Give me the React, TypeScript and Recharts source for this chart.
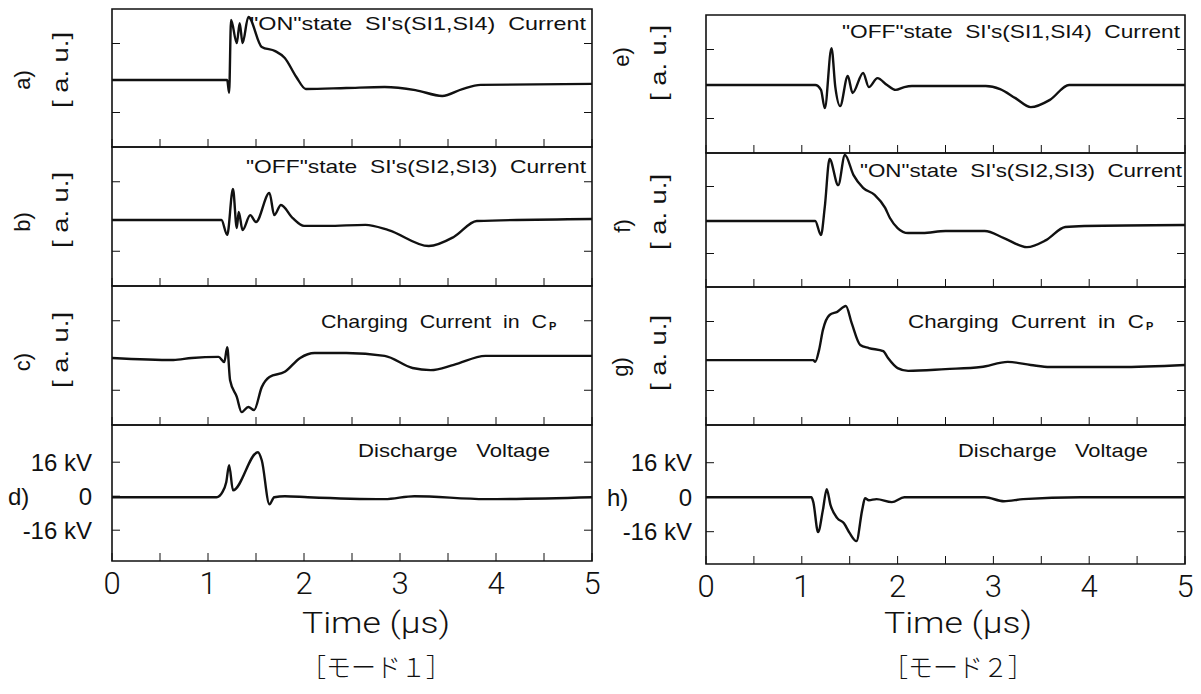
import React from "react";
import { LineChart, Line, XAxis, YAxis, ReferenceArea } from "recharts";

const INK = "#111111";
const SANS = "'Liberation Sans', Arial, sans-serif";
const THIN = "Roboto, 'Liberation Sans', sans-serif";
const CJK = "'Noto Sans CJK JP', sans-serif";

const TIME_TICKS = [0, 0.5, 1, 1.5, 2, 2.5, 3, 3.5, 4, 4.5, 5];
const AU_TICKS = [-1, 1];
const KV_TICKS = [-16, 0, 16];
const KV_SIDE_TICKS = [-16, 16];

// [モード1] a) "ON" state SI1,SI4 current (a.u.)
const timeA = [0, 1.2, 1.22, 1.24, 1.3, 1.33, 1.36, 1.42, 1.56, 1.7, 1.8, 1.92, 2.02, 2.44, 2.84, 3.16, 3.44, 3.65, 3.84, 5];
const valueA = [-0.06, -0.06, -0.43, 1.68, 1.01, 1.59, 1.01, 1.77, 0.9, 0.78, 0.58, 0.03, -0.32, -0.29, -0.26, -0.35, -0.52, -0.32, -0.2, -0.17];

// b) "OFF" state SI2,SI3 current
const timeB = [0, 1.14, 1.2, 1.26, 1.3, 1.32, 1.36, 1.44, 1.5, 1.64, 1.69, 1.76, 1.88, 2.0, 2.24, 2.64, 2.88, 3.3, 3.56, 3.8, 5];
const valueB = [-0.1, -0.1, -0.53, 0.79, -0.33, 0.13, -0.39, 0.04, -0.16, 0.68, 0.04, 0.33, -0.04, -0.27, -0.27, -0.24, -0.39, -0.85, -0.59, -0.13, -0.07];

// c) charging current in Cp
const timeC = [0, 0.64, 0.83, 1.11, 1.17, 1.2, 1.23, 1.3, 1.35, 1.42, 1.48, 1.56, 1.64, 1.8, 1.96, 2.11, 2.44, 2.84, 3.13, 3.32, 3.56, 3.89, 5];
const valueC = [-0.07, -0.13, -0.07, -0.04, -0.19, 0.24, -0.71, -1.19, -1.63, -1.48, -1.57, -0.91, -0.62, -0.47, -0.07, 0.07, 0.07, -0.01, -0.36, -0.42, -0.27, -0.01, -0.01];

// d) discharge voltage (kV)
const timeD = [0, 1.09, 1.15, 1.19, 1.22, 1.26, 1.52, 1.56, 1.64, 1.69, 1.8, 2.04, 2.84, 3.15, 3.89, 5];
const valueD = [-0.5, -0.5, 1.9, 6.6, 14.6, 2.8, 20.7, 16.9, -3.8, -0.5, 0, -0.5, -1.4, 0, -1.4, -0.5];

// [モード2] e) "OFF" state SI1,SI4 current
const timeE = [0, 1.14, 1.2, 1.24, 1.31, 1.35, 1.4, 1.48, 1.53, 1.64, 1.7, 1.79, 1.89, 1.98, 2.07, 2.15, 2.92, 3.07, 3.23, 3.39, 3.59, 3.79, 5];
const valueE = [-0.03, -0.03, -0.17, -0.7, 1.04, -0.09, -0.64, 0.23, -0.26, 0.32, -0.09, 0.17, -0.03, -0.17, -0.09, -0.06, -0.06, -0.15, -0.41, -0.67, -0.46, -0.03, -0.03];

// f) "ON" state SI2,SI3 current
const timeF = [0, 1.14, 1.2, 1.24, 1.29, 1.38, 1.45, 1.54, 1.64, 1.76, 1.87, 1.92, 2.0, 2.11, 2.26, 2.5, 2.91, 3.11, 3.35, 3.55, 3.75, 3.95, 5];
const valueF = [-0.03, -0.03, -0.45, 0.39, 1.82, 1.04, 1.94, 1.34, 0.96, 0.75, 0.36, 0.06, -0.24, -0.39, -0.39, -0.33, -0.33, -0.54, -0.81, -0.6, -0.21, -0.18, -0.15];

// g) charging current in Cp
const timeG = [0, 1.12, 1.14, 1.18, 1.22, 1.29, 1.37, 1.46, 1.52, 1.61, 1.7, 1.85, 1.9, 2.0, 2.11, 2.5, 2.87, 3.15, 3.39, 3.59, 4.31, 5];
const valueG = [-0.12, -0.12, -0.17, 0.17, 0.75, 1.19, 1.28, 1.45, 0.96, 0.32, 0.23, 0.14, -0.06, -0.35, -0.43, -0.38, -0.32, -0.17, -0.26, -0.32, -0.32, -0.26];

// h) discharge voltage (kV)
const timeH = [0, 1.1, 1.12, 1.17, 1.22, 1.26, 1.3, 1.37, 1.44, 1.5, 1.57, 1.63, 1.66, 1.7, 1.78, 1.94, 2.07, 2.91, 3.11, 3.31, 3.91, 5];
const valueH = [0, 0, -2.3, -16.2, -6.0, 3.7, -3.7, -9.7, -12.1, -16.7, -20.4, -6.0, -0.5, -1.4, -0.9, -2.3, 0, 0, -1.9, -0.9, 0, 0];

const AU_DOMAIN: [number, number] = [-2, 2];
const KV_DOMAIN_LEFT: [number, number] = [-30.5, 33.5];
const KV_DOMAIN_RIGHT: [number, number] = [-31, 33.5];

type PanelProps = {
  chartLeft: number;
  chartWidth: number;
  top: number;
  bottom: number;
  time: number[];
  value: number[];
  domain: [number, number];
  kv?: boolean;
  kvMargin?: number;
};

const blank = () => "";
const kvLabel = (v: number) => (v === 0 ? "0" : `${v} kV`);
const timeLabel = (v: number) => (Number.isInteger(v) ? String(v) : "");

function Panel({ chartLeft, chartWidth, top, bottom, time, value, domain, kv = false, kvMargin = 24 }: PanelProps) {
  const data = time.map((t, i) => ({ t, v: value[i] }));
  const pad = 6;
  const axisH = kv ? 80 : pad;
  const height = bottom - top + pad + axisH;
  return (
    <div style={{ position: "absolute", left: chartLeft, top: top - pad }}>
      <LineChart
        width={chartWidth}
        height={height}
        data={data}
        margin={{ top: pad, right: 0, bottom: 0, left: 12 }}
      >
        <XAxis
          dataKey="t"
          type="number"
          domain={[0, 5]}
          ticks={TIME_TICKS}
          interval={0}
          height={axisH}
          axisLine={false}
          stroke={INK}
          tickSize={-8}
          tickMargin={kv ? 19 : 0}
          tickFormatter={kv ? timeLabel : blank}
          tick={{ fill: INK, fontSize: 31, fontFamily: THIN, fontWeight: 300 }}
        />
        <YAxis
          type="number"
          domain={domain}
          ticks={kv ? KV_TICKS : AU_TICKS}
          interval={0}
          width={100}
          axisLine={false}
          stroke={INK}
          tickSize={-8}
          tickMargin={kv ? kvMargin : 0}
          tickFormatter={kv ? kvLabel : blank}
          tick={{ fill: INK, fontSize: 24, fontFamily: SANS }}
          allowDataOverflow
        />
        <YAxis
          yAxisId="r"
          orientation="right"
          type="number"
          domain={domain}
          ticks={kv ? KV_SIDE_TICKS : AU_TICKS}
          interval={0}
          width={10}
          axisLine={false}
          stroke={INK}
          tickSize={-8}
          tickFormatter={blank}
          allowDataOverflow
        />
        <ReferenceArea
          x1={0}
          x2={5}
          y1={domain[0]}
          y2={domain[1]}
          fill="none"
          stroke={INK}
          strokeWidth={1.6}
          ifOverflow="visible"
        />
        <Line
          type="monotone"
          dataKey="v"
          stroke={INK}
          strokeWidth={2.4}
          dot={false}
          isAnimationActive={false}
        />
      </LineChart>
    </div>
  );
}

type Note = { text: string; x: number; y: number; len?: number; size?: number; rotate?: boolean; anchor?: "start" | "middle" | "end" };

const NOTES: Note[] = [
  { text: "a)", x: 22, y: 80, size: 22, rotate: true },
  { text: "[ a. u.]", x: 60, y: 70, size: 22, rotate: true, len: 76 },
  { text: "b)", x: 22, y: 222, size: 22, rotate: true },
  { text: "[ a. u.]", x: 60, y: 210, size: 22, rotate: true, len: 76 },
  { text: "c)", x: 22, y: 362, size: 22, rotate: true },
  { text: "[ a. u.]", x: 60, y: 350, size: 22, rotate: true, len: 76 },
  { text: "d)", x: 8, y: 505, size: 24, anchor: "start" },
  { text: "e)", x: 621, y: 57, size: 22, rotate: true },
  { text: "[ a. u.]", x: 658, y: 63, size: 22, rotate: true, len: 76 },
  { text: "f)", x: 622, y: 226, size: 22, rotate: true },
  { text: "[ a. u.]", x: 658, y: 212, size: 22, rotate: true, len: 76 },
  { text: "g)", x: 620, y: 367, size: 22, rotate: true },
  { text: "[ a. u.]", x: 658, y: 353, size: 22, rotate: true, len: 76 },
  { text: "h)", x: 607, y: 506, size: 24, anchor: "start" },
  { text: "\"ON\"state  SI's(SI1,SI4)  Current", x: 250, y: 30, len: 336, size: 19, anchor: "start" },
  { text: "\"OFF\"state  SI's(SI2,SI3)  Current", x: 246, y: 173, len: 340, size: 19, anchor: "start" },
  { text: "Charging  Current  in  C", x: 321, y: 328, len: 226, size: 19, anchor: "start" },
  { text: "Discharge   Voltage", x: 358, y: 457, len: 192, size: 19, anchor: "start" },
  { text: "\"OFF\"state  SI's(SI1,SI4)  Current", x: 842, y: 38, len: 338, size: 19, anchor: "start" },
  { text: "\"ON\"state  SI's(SI2,SI3)  Current", x: 860, y: 177, len: 322, size: 19, anchor: "start" },
  { text: "Charging  Current  in  C", x: 908, y: 328, len: 236, size: 19, anchor: "start" },
  { text: "Discharge   Voltage", x: 958, y: 457, len: 190, size: 19, anchor: "start" },
];

const SUBS = [
  { text: "P", x: 549, y: 330 },
  { text: "P", x: 1146, y: 330 },
];

const CAPTIONS = [
  { x: 376, time: "Time (µs)", mode: "［モード１］" },
  { x: 958, time: "Time (µs)", mode: "［モード２］" },
];

export default function App() {
  return (
    <div style={{ position: "absolute", left: 0, top: 0, width: 1201, height: 694, background: "#fff" }}>
      <Panel chartLeft={0} chartWidth={602} top={9} bottom={147} time={timeA} value={valueA} domain={AU_DOMAIN} />
      <Panel chartLeft={0} chartWidth={602} top={147} bottom={286} time={timeB} value={valueB} domain={AU_DOMAIN} />
      <Panel chartLeft={0} chartWidth={602} top={286} bottom={425} time={timeC} value={valueC} domain={AU_DOMAIN} />
      <Panel chartLeft={0} chartWidth={602} top={425} bottom={561} time={timeD} value={valueD} domain={KV_DOMAIN_LEFT} kv kvMargin={28} />
      <Panel chartLeft={594} chartWidth={601} top={15} bottom={153} time={timeE} value={valueE} domain={AU_DOMAIN} />
      <Panel chartLeft={594} chartWidth={601} top={153} bottom={287} time={timeF} value={valueF} domain={AU_DOMAIN} />
      <Panel chartLeft={594} chartWidth={601} top={287} bottom={425} time={timeG} value={valueG} domain={AU_DOMAIN} />
      <Panel chartLeft={594} chartWidth={601} top={425} bottom={564} time={timeH} value={valueH} domain={KV_DOMAIN_RIGHT} kv kvMargin={22} />
      <svg width={1201} height={694} style={{ position: "absolute", left: 0, top: 0, pointerEvents: "none" }}>
        {NOTES.map((n, i) =>
          n.rotate ? (
            <text
              key={i}
              transform={`translate(${n.x},${n.y}) rotate(-90)`}
              textAnchor="middle"
              dominantBaseline="central"
              fontFamily={SANS}
              fontSize={n.size}
              fill={INK}
              textLength={n.len}
              lengthAdjust={n.len ? "spacingAndGlyphs" : undefined}
            >
              {n.text}
            </text>
          ) : (
            <text
              key={i}
              x={n.x}
              y={n.y}
              textAnchor={n.anchor ?? "start"}
              fontFamily={SANS}
              fontSize={n.size}
              fill={INK}
              textLength={n.len}
              lengthAdjust={n.len ? "spacingAndGlyphs" : undefined}
              style={{ whiteSpace: "pre" }}
            >
              {n.text}
            </text>
          )
        )}
        {SUBS.map((s, i) => (
          <text key={i} x={s.x} y={s.y} fontFamily={SANS} fontSize={11} fontWeight={700} fill={INK}>
            {s.text}
          </text>
        ))}
        {CAPTIONS.map((c, i) => (
          <g key={i}>
            <text x={c.x} y={633} textAnchor="middle" fontFamily={THIN} fontWeight={300} fontSize={30} fill={INK} textLength={148} lengthAdjust="spacingAndGlyphs">
              {c.time}
            </text>
            <text x={c.x} y={677} textAnchor="middle" fontFamily={CJK} fontWeight={300} fontSize={26} fill={INK} textLength={150} lengthAdjust="spacingAndGlyphs">
              {c.mode}
            </text>
          </g>
        ))}
      </svg>
    </div>
  );
}
